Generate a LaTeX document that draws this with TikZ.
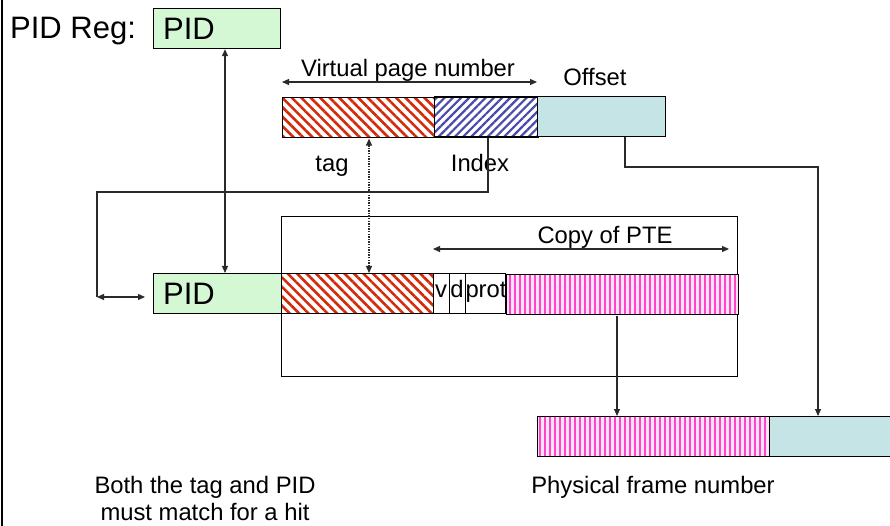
\documentclass[tikz,border=0pt]{standalone}
\usepackage{fontspec}
\setmainfont{Liberation Sans}
\usetikzlibrary{arrows.meta,patterns.meta}
\definecolor{pidgreen}{HTML}{D4F8D4}
\definecolor{offcyan}{HTML}{C4E4E6}
\definecolor{tagred}{HTML}{D42A0A}
\definecolor{idxblue}{HTML}{4A4AAA}
\definecolor{pfnpink}{HTML}{FF44CC}
\definecolor{wire}{HTML}{2A2A2A}
\begin{document}
\begin{tikzpicture}[x=1pt,y=-1pt,
  field/.style={draw=black, line width=1.2pt, inner sep=0pt, minimum height=40pt, anchor=north west},
  lbl/.style={font=\fontsize{23.8}{28}\selectfont, inner sep=0pt},
  big/.style={font=\fontsize{31}{36}\selectfont, inner sep=0pt},
  conn/.style={draw=wire, line width=1.2pt},
  tip/.style={-{Triangle[length=7pt,width=6pt]}},
  dtip/.style={{Triangle[length=7pt,width=6pt]}-{Triangle[length=7pt,width=6pt]}},
  redhatch/.style={pattern={Lines[angle=-45,distance=6.7pt,line width=2.6pt]}, pattern color=tagred},
  bluehatch/.style={pattern={Lines[angle=45,distance=5.8pt,line width=2.2pt]}, pattern color=idxblue},
  pinkstripe/.style={preaction={fill=pfnpink!15}, pattern={Lines[angle=90,distance=5pt,line width=2.6pt]}, pattern color=pfnpink},
]
\useasboundingbox (0,0) rectangle (890,526);
\clip (0,0) rectangle (890,526);
\fill[white] (0,0) rectangle (890,526);
\draw[line width=1.5pt] (2,0) -- (2,526);

% PID register
\node[big, anchor=base west] (pidreglbl) at (10,39) {PID Reg:};
\node[field, fill=pidgreen, minimum width=127pt] (pidreg) at (153,8) {};
\node[big, anchor=base west] (pidregtxt) at (163,40) {PID};

% virtual address
\node[field, redhatch, minimum width=152pt] (vtag) at (281,96) {};
\node[field, bluehatch, minimum width=104pt] (vidx) at (433,96) {};
\node[field, fill=offcyan, minimum width=128pt] (voff) at (537,96) {};
\coordinate (vpnL) at (282,82);
\coordinate (vpnR) at (537,82);
\draw[conn, dtip] (vpnL) -- (vpnR);
\node[lbl, anchor=base] (vpnlbl) at (408,77) {Virtual page number};
\node[lbl, anchor=base] (offlbl) at (595,86) {Offset};
\node[lbl, anchor=base] (taglbl) at (332,172) {tag};
\node[lbl, anchor=base] (idxlbl) at (480,172) {Index};

% TLB entry
\node[draw=black, line width=1.2pt, inner sep=0pt, minimum width=456pt, minimum height=160pt, anchor=north west] (tlb) at (281,216) {};
\node[field, fill=pidgreen, minimum width=128pt] (tpid) at (153,273) {};
\node[big, anchor=base west] (tpidtxt) at (163,304) {PID};
\node[field, fill=white, redhatch, minimum width=152pt] (ttag) at (281,273) {};
\node[field, fill=white, minimum width=16pt] (tv) at (433,273) {};
\node[field, fill=white, minimum width=16pt] (td) at (449,273) {};
\node[field, fill=white, minimum width=40pt] (tprot) at (465,273) {};
\node[field, pinkstripe, minimum width=232pt] (tpfn) at (505,273) {};
\node[lbl, anchor=base] (tvtxt) at (441,298) {v};
\node[lbl, anchor=base] (tdtxt) at (457,298) {d};
\node[lbl, anchor=base] (tprottxt) at (486,298) {prot};
\coordinate (pteL) at (433,249);
\coordinate (pteR) at (729,249);
\draw[conn, dtip] (pteL) -- (pteR);
\node[lbl, anchor=base] (ptelbl) at (605,244) {Copy of PTE};

% physical address
\node[field, pinkstripe, minimum width=232pt] (ppfn) at (537,416) {};
\node[field, fill=offcyan, minimum width=140pt] (poff) at (769,416) {};
\node[lbl, anchor=base] (pfnlbl) at (653,493) {Physical frame number};
\node[lbl, anchor=base] (note1) at (205,493) {Both the tag and PID};
\node[lbl, anchor=base] (note2) at (205,520) {must match for a hit};

% connectors
\draw[conn, dtip] ([xshift=72pt]pidreg.south west) -- ([xshift=72pt]tpid.north west);
\draw[draw=wire, line width=1.2pt, dash pattern=on 1.3pt off 1.3pt, dtip] ([xshift=88pt]vtag.south west) -- ([xshift=88pt]ttag.north west);
\coordinate (idxturn) at (97,192);
\coordinate (idxend) at (97,297);
\coordinate (pidin) at (145,297);
\draw[conn] ([xshift=55pt]vidx.south west) |- (idxturn) -- (idxend);
\draw[conn, dtip] (idxend) -- (pidin);
\coordinate (offturn) at (818,167);
\draw[conn, tip] ([xshift=88pt]voff.south west) |- (offturn) -- ([xshift=49pt]poff.north west);
\draw[conn, tip] ([xshift=112pt]tpfn.south west) -- ([xshift=80pt]ppfn.north west);
\end{tikzpicture}
\end{document}
